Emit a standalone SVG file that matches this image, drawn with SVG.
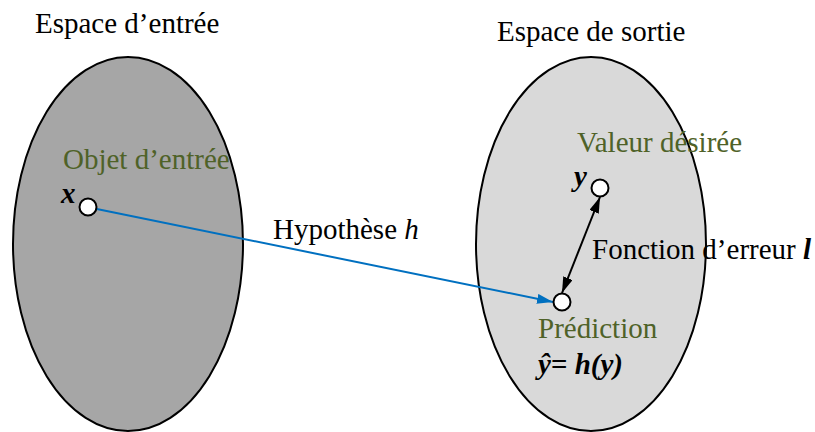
<svg xmlns="http://www.w3.org/2000/svg" width="815" height="432" viewBox="0 0 815 432" font-family="Liberation Serif, Times New Roman, serif">
<style>
text{font-family:"Liberation Serif","Times New Roman",serif;font-size:29px;fill:#000}
.g{fill:#4f6228}
.bi{font-weight:bold;font-style:italic}
.pt{fill:#fff;stroke:#000;stroke-width:2}
</style>
<defs>
<marker id="ab" viewBox="0 0 16 10" refX="16" refY="5" markerWidth="16" markerHeight="10" orient="auto" markerUnits="userSpaceOnUse"><path d="M0,0 L16,5 L0,10 z" fill="#0070c0"/></marker>
<marker id="ak" viewBox="0 0 16 10" refX="16" refY="5" markerWidth="16" markerHeight="10" orient="auto-start-reverse" markerUnits="userSpaceOnUse"><path d="M0,0 L16,5 L0,10 z" fill="#000"/></marker>
</defs>
<g id="input-space">
<ellipse cx="128" cy="244" rx="115" ry="187" fill="#a6a6a6" stroke="#000" stroke-width="2"/>
<text x="35" y="33">Espace d’entrée</text>
</g>
<g id="output-space">
<ellipse cx="591" cy="244" rx="115" ry="187" fill="#d9d9d9" stroke="#000" stroke-width="2"/>
<text x="497" y="41">Espace de sortie</text>
</g>
<g id="connectors">
<line x1="87" y1="207" x2="553" y2="302" stroke="#0070c0" stroke-width="2" marker-end="url(#ab)"/>
<line x1="600" y1="197" x2="562" y2="293" stroke="#000" stroke-width="2" marker-start="url(#ak)" marker-end="url(#ak)"/>
<text x="273" y="239">Hypothèse <tspan font-style="italic">h</tspan></text>
<text x="592" y="259">Fonction d’erreur <tspan class="bi">l</tspan></text>
</g>
<g id="input-object">
<text class="g" x="63" y="169">Objet d’entrée</text>
<circle class="pt" cx="88" cy="207" r="8.5"/>
<text class="bi" x="61" y="203">x</text>
</g>
<g id="desired-value">
<text class="g" x="577" y="152">Valeur désirée</text>
<circle class="pt" cx="600" cy="188" r="8.5"/>
<text class="bi" x="574" y="186">y</text>
</g>
<g id="prediction">
<circle class="pt" cx="562" cy="302" r="8.5"/>
<text class="g" x="538" y="338">Prédiction</text>
<text class="bi" x="538" y="374">ŷ= h(y)</text>
</g>
</svg>
